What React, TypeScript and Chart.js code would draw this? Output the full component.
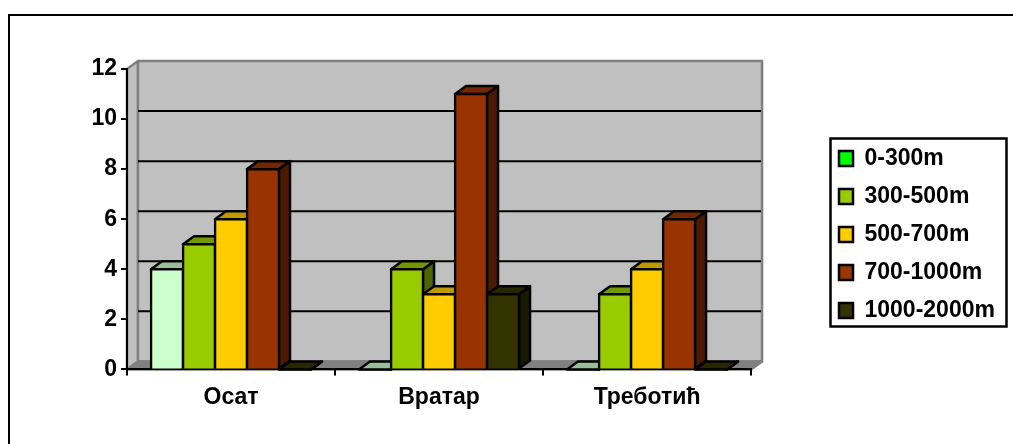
import React, { useEffect, useRef } from "react";
import { Chart, registerables } from "chart.js";

Chart.register(...registerables);

const categories = ["Осат", "Вратар", "Треботић"];
const seriesNames = ["0-300m", "300-500m", "500-700m", "700-1000m", "1000-2000m"];
const band0to300 = [4, 0, 0];
const band300to500 = [5, 4, 3];
const band500to700 = [6, 3, 4];
const band700to1000 = [8, 11, 6];
const band1000to2000 = [0, 3, 0];
const yTicks = [0, 2, 4, 6, 8, 10, 12];

const frontColors = ["#CCFFCC", "#99CC00", "#FFCC00", "#993300", "#333300"];
const topColors = ["#99BF99", "#739900", "#BF9900", "#732600", "#262600"];
const sideColors = ["#668066", "#4D6600", "#806600", "#4D1A00", "#1A1A00"];
const legendColors = ["#00FF00", "#99CC00", "#FFCC00", "#993300", "#333300"];

const DX = 11;
const DY = 8;
const FONT = "'Liberation Sans', Arial, sans-serif";

function poly(ctx: CanvasRenderingContext2D, pts: number[][], fill: string | null, stroke: string | null, lw = 2.5) {
  ctx.beginPath();
  pts.forEach((p, i) => (i ? ctx.lineTo(p[0], p[1]) : ctx.moveTo(p[0], p[1])));
  ctx.closePath();
  if (fill) {
    ctx.fillStyle = fill;
    ctx.fill();
  }
  if (stroke) {
    ctx.strokeStyle = stroke;
    ctx.lineWidth = lw;
    ctx.lineJoin = "round";
    ctx.stroke();
  }
}

const scene3d = {
  id: "scene3d",
  beforeDraw(chart: any) {
    const { ctx, chartArea: a, scales } = chart;
    ctx.save();
    ctx.strokeStyle = "#000";
    ctx.lineWidth = 2;
    ctx.beginPath();
    ctx.moveTo(9, 444);
    ctx.lineTo(9, 15);
    ctx.lineTo(1013, 15);
    ctx.stroke();
    poly(ctx, [[a.left, a.top], [a.left + DX, a.top - DY], [a.left + DX, a.bottom - DY], [a.left, a.bottom]], "#C0C0C0", "#808080");
    poly(ctx, [[a.left + DX, a.top - DY], [a.right + DX, a.top - DY], [a.right + DX, a.bottom - DY], [a.left + DX, a.bottom - DY]], "#C0C0C0", "#808080");
    poly(ctx, [[a.left, a.bottom], [a.left + DX, a.bottom - DY], [a.right + DX, a.bottom - DY], [a.right, a.bottom]], "#808080", "#808080");
    ctx.strokeStyle = "#000";
    ctx.lineWidth = 2;
    yTicks.filter((v) => v > 0 && v < 12).forEach((v) => {
      const y = scales.y.getPixelForValue(v) - DY;
      ctx.beginPath();
      ctx.moveTo(a.left + DX, y);
      ctx.lineTo(a.right + DX - 1, y);
      ctx.stroke();
    });
    ctx.restore();
  },
  beforeDatasetsDraw(chart: any) {
    const { ctx } = chart;
    ctx.save();
    chart.data.datasets.forEach((_: any, di: number) => {
      const meta = chart.getDatasetMeta(di);
      meta.data.forEach((bar: any) => {
        const { x, y, base, width } = bar.getProps(["x", "y", "base", "width"], true);
        const l = x - width / 2;
        const r = x + width / 2;
        poly(ctx, [[r, y], [r + DX, y - DY], [r + DX, base - DY], [r, base]], sideColors[di], "#000");
        poly(ctx, [[l, y], [l + DX, y - DY], [r + DX, y - DY], [r, y]], topColors[di], "#000");
        bar.draw(ctx, chart.chartArea);
      });
    });
    ctx.restore();
    return false;
  },
  afterLayout(chart: any) {
    const lg = chart.legend;
    const w = lg.right - lg.left;
    lg.left = 824;
    lg.right = 824 + w;
    lg.top = 132;
    lg.bottom = 444;
  },
  afterDraw(chart: any) {
    const { ctx } = chart;
    ctx.save();
    ctx.strokeStyle = "#000";
    ctx.lineWidth = 2.5;
    ctx.strokeRect(830.5, 138.5, 176, 188);
    ctx.restore();
  },
};

export default function App() {
  const ref = useRef<HTMLCanvasElement>(null);
  useEffect(() => {
    const values = [band0to300, band300to500, band500to700, band700to1000, band1000to2000];
    const chart = new Chart(ref.current as HTMLCanvasElement, {
      type: "bar",
      data: {
        labels: categories,
        datasets: seriesNames.map((label, i) => ({
          label,
          data: values[i],
          backgroundColor: frontColors[i],
          borderColor: "#000",
          borderWidth: 2.5,
          inflateAmount: 1.25,
          categoryPercentage: 160 / 208,
          barPercentage: 1,
        })),
      },
      options: {
        responsive: false,
        animation: false,
        layout: { padding: { left: 0, top: 69, right: 81, bottom: 25 } },
        plugins: {
          tooltip: { enabled: false },
          legend: {
            position: "right",
            align: "start",
            labels: {
              font: { family: FONT, size: 23, weight: "bold" },
              color: "#000",
              boxWidth: 14,
              boxHeight: 15,
              padding: 15,
              generateLabels: () =>
                seriesNames.map((text, i) => ({
                  text,
                  fillStyle: legendColors[i],
                  strokeStyle: "#000",
                  lineWidth: 2.5,
                  datasetIndex: i,
                })),
            },
          },
        },
        scales: {
          x: {
            grid: { drawOnChartArea: false, drawTicks: true, tickLength: 6, color: "#000", lineWidth: 2, offset: true },
            border: { color: "#000", width: 2 },
            ticks: { font: { family: FONT, size: 23, weight: "bold" }, color: "#000", padding: 8, maxRotation: 0 },
          },
          y: {
            min: 0,
            max: 12,
            grid: { drawOnChartArea: false, drawTicks: true, tickLength: 6, color: "#000", lineWidth: 2 },
            border: { color: "#000", width: 2 },
            afterFit: (s: any) => {
              s.width = 127;
            },
            afterBuildTicks: (s: any) => {
              s.ticks = yTicks.map((value) => ({ value }));
            },
            ticks: { font: { family: FONT, size: 23, weight: "bold" }, color: "#000", padding: 4 },
          },
        },
      },
      plugins: [scene3d],
    } as any);
    return () => chart.destroy();
  }, []);
  return (
    <canvas
      ref={ref}
      width={1013}
      height={444}
      style={{ position: "fixed", left: 0, top: 0, width: 1013, height: 444, display: "block" }}
    />
  );
}
